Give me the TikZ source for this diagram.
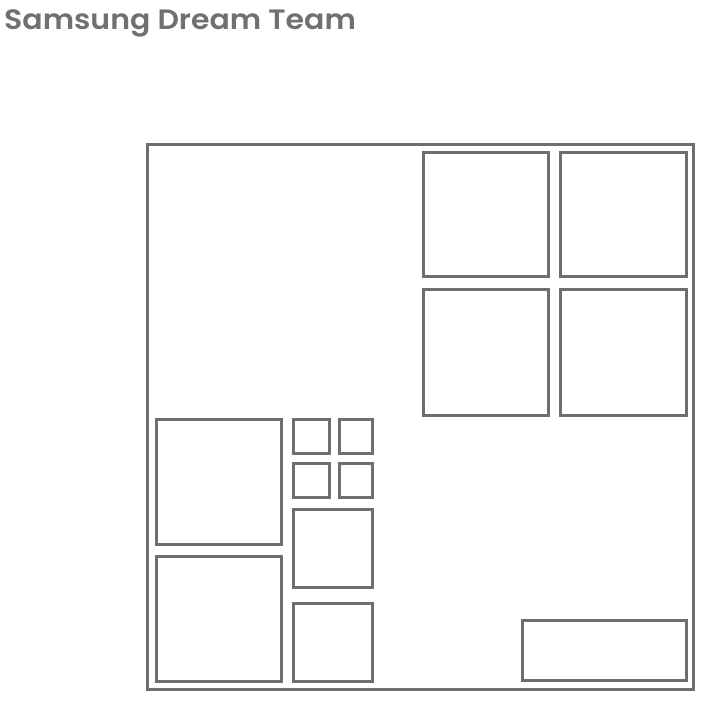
\documentclass[tikz,border=0pt]{standalone}
\usepackage{fontspec}
\setmainfont{Poppins}
\newfontfamily\titlefont[FakeStretch=1.07]{Poppins SemiBold}
\definecolor{linegray}{RGB}{110,110,110}
\definecolor{textgray}{RGB}{112,112,112}
\tikzset{
  box/.style={draw=linegray, line width=3pt, inner sep=0pt, outer sep=0pt},
  title/.style={text=textgray, font=\titlefont\fontsize{28}{30}\selectfont, inner sep=0pt, anchor=base west}
}
\newcommand{\boxat}[5]{\node[box, minimum width=#4-#2, minimum height=#5-#3] (#1) at ({(#2+#4)/2},{(#3+#5)/2}) {};}
\begin{document}
\begin{tikzpicture}[x=1pt,y=-1pt]
\useasboundingbox (0,0) rectangle (711,715);
\node[title] (t) at (4,29.5) {Samsung Dream Team};
\boxat{frame}{147.7}{144.3}{693.8}{689.5}
\boxat{q1}{423.3}{152.3}{548.5}{276.7}
\boxat{q2}{560.3}{152.3}{686}{276.7}
\boxat{q3}{423.3}{289.3}{548.5}{415}
\boxat{q4}{560.3}{289.3}{686}{415}
\boxat{b1}{156}{419}{281.7}{544.3}
\boxat{b2}{156}{556}{281.7}{681.7}
\boxat{s1}{293.3}{419}{329}{453.3}
\boxat{s2}{339}{419}{372.7}{453.3}
\boxat{s3}{293.3}{463.3}{329}{497.3}
\boxat{s4}{339}{463.3}{372.7}{497.3}
\boxat{m1}{293.3}{509.3}{372.7}{587.7}
\boxat{m2}{293.3}{603.3}{372.7}{681.7}
\boxat{r1}{522}{620.7}{686}{680.7}
\end{tikzpicture}
\end{document}
